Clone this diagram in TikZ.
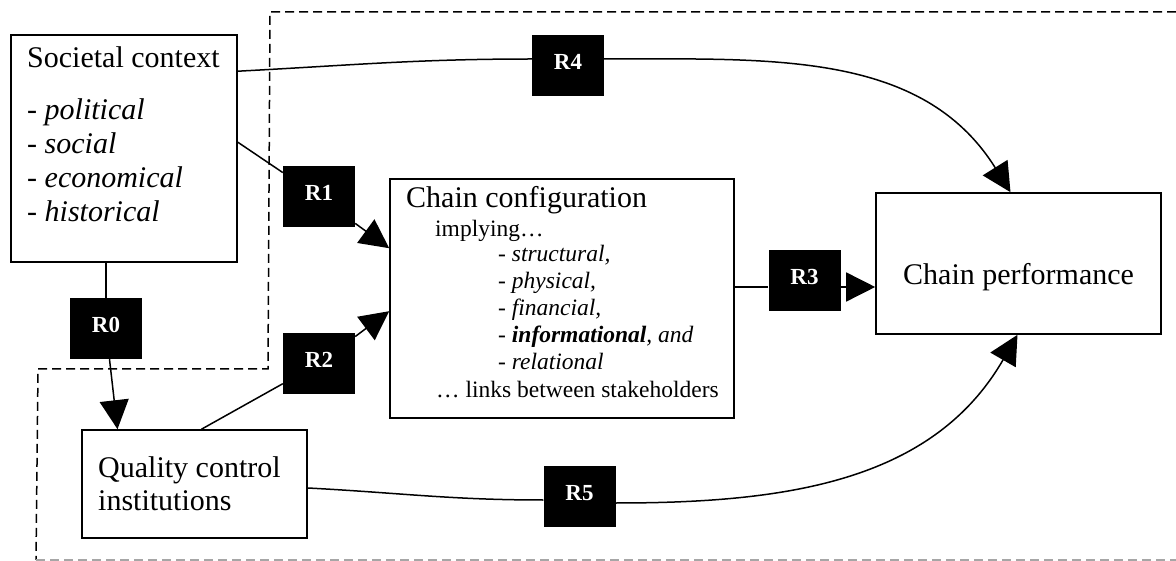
\documentclass[tikz,border=0pt]{standalone}
\usepackage{fontspec}
\setmainfont{Liberation Serif}
\usetikzlibrary{arrows.meta}
\tikzset{
  box/.style={draw, line width=1.6pt, rectangle, inner sep=0pt},
  rbox/.style={fill=black, rectangle, inner sep=0pt, minimum width=72pt, minimum height=61pt,
    text height=16pt, text depth=8pt,
    text=white, font=\bfseries\fontsize{23}{27}\selectfont},
  conn/.style={line width=1.5pt},
  arr/.style={conn, -{Triangle[length=29pt,width=29pt]}},
  bigtxt/.style={inner sep=0pt, anchor=base west, align=left, font=\fontsize{30}{34}\selectfont},
  smalltxt/.style={inner sep=0pt, anchor=base west, align=left, font=\fontsize{23.5}{27}\selectfont},
  border/.style={line width=1.5pt, dash pattern=on 9pt off 5pt}
}
\begin{document}
\begin{tikzpicture}[x=1pt, y=-1pt]
\useasboundingbox (0,0) rectangle (1176,561);

% dashed boundary
\draw[border] (1176,12) -- (270,12) -- (268,369) -- (38,369) -- (36,560);
\draw[border, gray!70] (36,560) -- (1176,560);

% boxes
\node[box, minimum width=226pt, minimum height=227pt] (sc) at (124,148.5) {};
\node[box, minimum width=225pt, minimum height=108pt] (qc) at (194.5,484) {};
\node[box, minimum width=344pt, minimum height=239pt] (cc) at (562,298.5) {};
\node[box, minimum width=285pt, minimum height=141pt] (cp) at (1018.5,263.5) {};

% texts (multi-line nodes: base = last line)
\node[bigtxt] (sctxt) at (27,222) {Societal context\\[18pt]\textit{- political}\\\textit{- social}\\\textit{- economical}\\\textit{- historical}};
\node[bigtxt, font=\fontsize{30}{33}\selectfont] (qctxt) at (98,510) {Quality control\\institutions};
\node[bigtxt] (cctitle) at (406,208) {Chain configuration};
\node[smalltxt] (ccimp) at (435,237) {implying…};
\node[smalltxt] (cclist) at (498,370) {- \textit{structural,}\\- \textit{physical,}\\- \textit{financial,}\\- \textbf{\textit{informational}}\textit{, and}\\- \textit{relational}};
\node[smalltxt] (cclinks) at (436,398) {… links between stakeholders};
\node[bigtxt] (cptxt) at (903,285) {Chain performance};

% R boxes
\node[rbox] (R0) at (106,328.5) {R0};
\node[rbox] (R1) at (319,197) {R1};
\node[rbox] (R2) at (319,363.5) {R2};
\node[rbox] (R3) at (804.5,280.5) {R3};
\node[rbox] (R4) at (568,65.5) {R4};
\node[rbox] (R5) at (579.5,496) {R5};

% helper coordinates
\coordinate (r3y) at (0,287);
\coordinate (r4y) at (0,59);

% connectors
\draw[conn] ([yshift=-37pt]sc.north east) to[out=3, in=180] (R4.west |- r4y);
\draw[arr] (R4.east |- r4y) to[out=0, in=122] ([xshift=-8pt]cp.north);

\draw[conn] ([yshift=-108pt]sc.north east) -- (R1);
\draw[arr] (R1) -- ([yshift=-70pt]cc.north west);

\draw[conn] ([xshift=-18pt]sc.south) -- (R0);
\draw[arr] (R0) -- ([xshift=-77pt]qc.north);

\draw[conn] ([xshift=7pt]qc.north) -- (R2);
\draw[arr] (R2) -- ([yshift=-133pt]cc.north west);

\draw[conn] (cc.east |- r3y) -- (R3.west |- r3y);
\draw[arr] (R3.east |- r3y) -- (cp.west |- r3y);

\draw[conn] ([yshift=-4pt]qc.east) to[out=-3, in=180] ([yshift=-4pt]R5.west);
\draw[arr] ([yshift=-7pt]R5.east) to[out=0, in=240] ([xshift=-1pt]cp.south);
\end{tikzpicture}
\end{document}
